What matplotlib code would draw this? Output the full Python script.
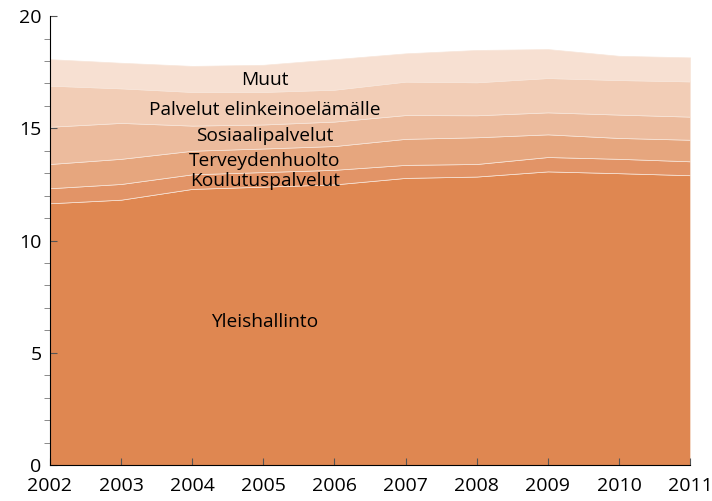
import matplotlib
matplotlib.use("Agg")
import matplotlib.pyplot as plt
from matplotlib.ticker import MultipleLocator

plt.rcParams['font.family'] = ['Open Sans', 'DejaVu Sans']

years = [2002, 2003, 2004, 2005, 2006, 2007, 2008, 2009, 2010, 2011]

# shares, stacked bottom to top
yleishallinto = [11.66, 11.82, 12.30, 12.40, 12.50, 12.79, 12.85, 13.08, 13.00, 12.91]
koulutus = [0.67, 0.70, 0.65, 0.65, 0.65, 0.58, 0.56, 0.64, 0.64, 0.62]
terveys = [1.08, 1.12, 1.05, 1.05, 1.06, 1.16, 1.19, 1.01, 0.93, 0.96]
sosiaali = [1.66, 1.60, 1.12, 1.07, 1.09, 1.06, 0.98, 0.98, 1.04, 1.03]
elinkeino = [1.83, 1.54, 1.50, 1.45, 1.42, 1.49, 1.47, 1.53, 1.54, 1.57]
muut = [1.18, 1.14, 1.16, 1.21, 1.36, 1.26, 1.44, 1.29, 1.08, 1.07]

names = ['Yleishallinto', 'Koulutuspalvelut', 'Terveydenhuolto',
         'Sosiaalipalvelut', 'Palvelut elinkeinoelämälle', 'Muut']
colors = ['#df8751', '#e29467', '#e6a67e', '#ecbb9d', '#f2cdb6', '#f7e0d2']
label_y = [6.35, 12.66, 13.55, 14.67, 15.83, 17.16]

fig = plt.figure(figsize=(7.12, 5.01), dpi=100)
ax = fig.add_axes([0.0702, 0.0719, 0.899, 0.896])

ax.stackplot(years, yleishallinto, koulutus, terveys, sosiaali, elinkeino, muut,
             colors=colors, edgecolor='#f8e6da', linewidth=0.5)

for name, y in zip(names, label_y):
    ax.text(2005.02, y, name, ha='center', va='center', fontsize=13.8, color='black')

ax.set_xlim(2002, 2011)
ax.set_ylim(0, 20)
ax.set_xticks(years)
ax.yaxis.set_major_locator(MultipleLocator(5))
ax.yaxis.set_minor_locator(MultipleLocator(1))
ax.tick_params(axis='both', direction='in', labelsize=14, color='#555555')
ax.tick_params(axis='y', which='major', length=5, pad=6)
ax.tick_params(axis='y', which='minor', length=4, color='#777777')
ax.tick_params(axis='x', length=5, pad=9)

for s in ['top', 'right']:
    ax.spines[s].set_visible(False)
ax.spines['left'].set_zorder(5)
ax.spines['bottom'].set_zorder(5)

fig.savefig('out.png', dpi=100)
